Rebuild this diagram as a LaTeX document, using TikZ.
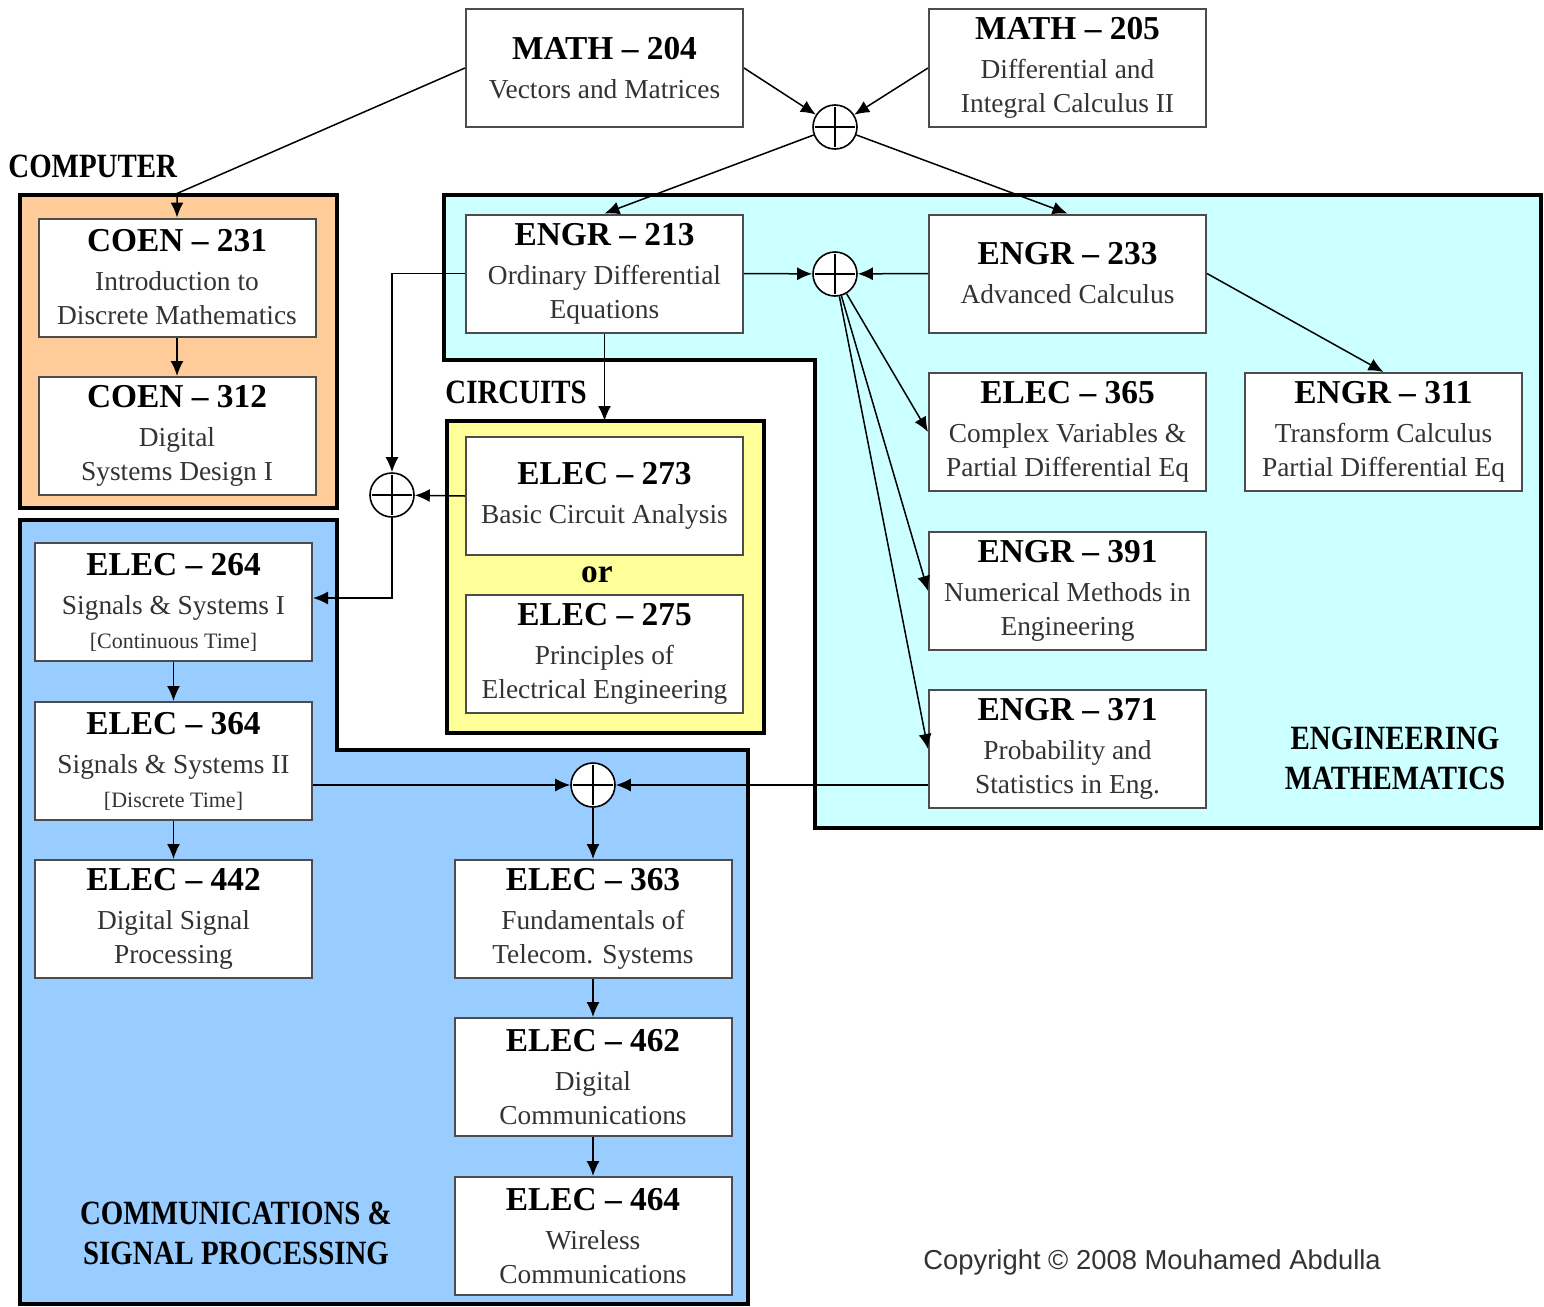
\documentclass[tikz,border=0pt]{standalone}
\usepackage{fontspec}
\setmainfont{Liberation Serif}
\newfontfamily\labelfont[FakeStretch=0.85]{Liberation Serif}
\newfontfamily\copyfont{Liberation Sans}
\usetikzlibrary{arrows.meta,calc}

\definecolor{compfill}{HTML}{FFCC99}
\definecolor{mathfill}{HTML}{CCFFFF}
\definecolor{circfill}{HTML}{FFFF99}
\definecolor{commfill}{HTML}{99CCFF}

\newcommand{\ctitle}[1]{{\fontsize{16.7}{17}\selectfont\bfseries\color{black}#1}\\[2.5pt]}
\newcommand{\csmall}[1]{{\fontsize{11}{13}\selectfont #1}}

\begin{document}
\begin{tikzpicture}[x=0.5pt, y=-0.5pt,
    box/.style={draw=black!70, line width=1pt, fill=white, minimum width=138.5pt,
        minimum height=59pt, inner sep=0pt, align=center, text=black!80,
        font=\fontsize{13.7}{17}\selectfont},
    sum/.style={circle, draw, fill=white, line width=0.8pt, minimum size=22pt, inner sep=0pt,
        path picture={\draw[line width=0.6pt]
            ([yshift=-1pt]path picture bounding box.north) -- ([yshift=1pt]path picture bounding box.south)
            ([xshift=1pt]path picture bounding box.west) -- ([xshift=-1pt]path picture bounding box.east);}},
    region/.style={draw=black, line width=2.2pt},
    lbl/.style={font=\labelfont\bfseries\fontsize{17}{20}\selectfont, align=center, text=black, inner sep=0pt},
    arr/.style={line width=0.75pt, -{Latex[length=7.5pt,width=6.5pt]}}]

    \useasboundingbox (0,0) rectangle (1544,1307);

    % regions
    \draw[region, fill=compfill] (20,195) rectangle (337,508);
    \draw[region, fill=mathfill] (444,195) -- (1541,195) -- (1541,828) -- (815,828)
        -- (815,360) -- (444,360) -- cycle;
    \draw[region, fill=commfill] (20,520) -- (337,520) -- (337,750) -- (748,750)
        -- (748,1304) -- (20,1304) -- cycle;
    \draw[region, fill=circfill] (447,421) rectangle (764,733);
    \coordinate (circtop) at (604.5,421);

    \node[lbl, anchor=west] (complbl) at (8,166) {COMPUTER};
    \node[lbl, anchor=west] (circlbl) at (445,392) {CIRCUITS};
    \node[lbl] (mathlbl) at (1395,758) {ENGINEERING\\MATHEMATICS};
    \node[lbl] (commlbl) at (236,1233) {COMMUNICATIONS \&\\SIGNAL PROCESSING};

    % courses
    \node[box] (m204) at (604.5,68) {\ctitle{MATH -- 204}Vectors and Matrices};
    \node[box] (m205) at (1067.5,68) {\ctitle{MATH -- 205}Differential and\\Integral Calculus II};
    \node[box] (c231) at (177,277.5) {\ctitle{COEN -- 231}Introduction to\\Discrete Mathematics};
    \node[box] (c312) at (177,436) {\ctitle{COEN -- 312}Digital\\Systems Design I};
    \node[box] (e213) at (604.5,273.5) {\ctitle{ENGR -- 213}Ordinary Differential\\Equations};
    \node[box] (e233) at (1067.5,273.5) {\ctitle{ENGR -- 233}Advanced Calculus};
    \node[box] (e365) at (1067.5,432) {\ctitle{ELEC -- 365}Complex Variables \&\\Partial Differential Eq};
    \node[box] (e311) at (1383.5,432) {\ctitle{ENGR -- 311}Transform Calculus\\Partial Differential Eq};
    \node[box] (e391) at (1067.5,591) {\ctitle{ENGR -- 391}Numerical Methods in\\Engineering};
    \node[box] (e371) at (1067.5,749) {\ctitle{ENGR -- 371}Probability and\\Statistics in Eng.};
    \node[box] (e273) at (604.5,496) {\ctitle{ELEC -- 273}Basic Circuit Analysis};
    \node[font=\fontsize{16.7}{18}\selectfont\bfseries] (orlbl) at (597,575) {or};
    \node[box] (e275) at (604.5,654) {\ctitle{ELEC -- 275}Principles of\\Electrical Engineering};
    \node[box] (e264) at (173.5,602) {\ctitle{ELEC -- 264}Signals \& Systems I\\\csmall{[Continuous Time]}};
    \node[box] (e364) at (173.5,761) {\ctitle{ELEC -- 364}Signals \& Systems II\\\csmall{[Discrete Time]}};
    \node[box] (e442) at (173.5,919) {\ctitle{ELEC -- 442}Digital Signal\\Processing};
    \node[box] (e363) at (593,919) {\ctitle{ELEC -- 363}Fundamentals of\\Telecom. Systems};
    \node[box] (e462) at (593,1077) {\ctitle{ELEC -- 462}Digital\\Communications};
    \node[box] (e464) at (593,1236) {\ctitle{ELEC -- 464}Wireless\\Communications};

    % sums
    \node[sum] (stop) at (835,127) {};
    \node[sum] (seng) at (835,274) {};
    \node[sum] (sleft) at (392,495) {};
    \node[sum] (sbot) at (593,785) {};

    % connectors
    \draw[arr] (m204.west) -- ($(c231.north)+(0,-24)$) -- (c231.north);
    \draw[arr] (m204.east) -- (stop);
    \draw[arr] (m205.west) -- (stop);
    \draw[arr] (stop) -- (e213.north);
    \draw[arr] (stop) -- (e233.north);
    \draw[arr] (e213.east) -- (seng);
    \draw[arr] (e233.west) -- (seng);
    \draw[arr] (seng) -- (e365.west);
    \draw[arr] (seng) -- (e391.west);
    \draw[arr] (seng) -- (e371.west);
    \draw[arr] (e233.east) -- (e311.north);
    \draw[arr] (e213.west) -| (sleft.north);
    \draw[arr] (e213.south) -- (circtop);
    \draw[arr] (e273.west) -- (sleft);
    \draw[arr] (sleft.south) |- ($(e264.east)+(0,-4)$);
    \draw[arr] (c231) -- (c312);
    \draw[arr] (e264) -- (e364);
    \draw[arr] (e364) -- (e442);
    \draw[arr] (e364.east |- sbot) -- (sbot);
    \draw[arr] (e371.west |- sbot) -- (sbot);
    \draw[arr] (sbot) -- (e363);
    \draw[arr] (e363) -- (e462);
    \draw[arr] (e462) -- (e464);

    \node[anchor=west, inner sep=0pt, font=\copyfont\fontsize{13.7}{16}\selectfont, text=black!80] (copy)
        at (923,1262) {Copyright © 2008 Mouhamed Abdulla};
\end{tikzpicture}
\end{document}
